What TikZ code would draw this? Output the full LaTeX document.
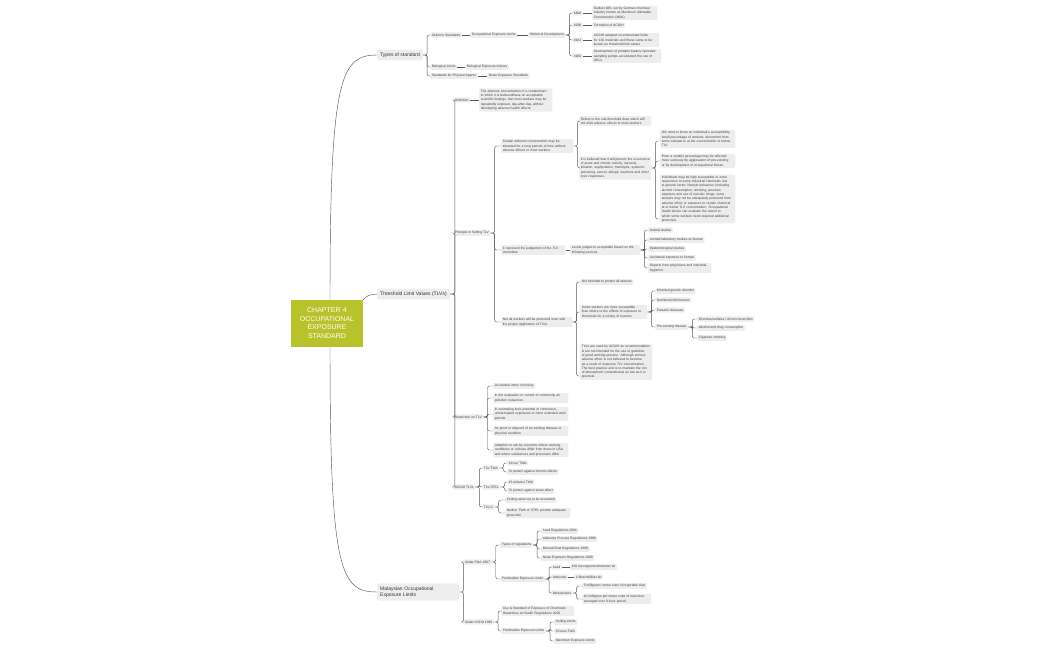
\documentclass[tikz,border=0pt]{standalone}
\usepackage{fontspec}
\setmainfont{Liberation Sans}
\begin{document}
\hyphenpenalty=10000 \exhyphenpenalty=10000
\begin{tikzpicture}[x=1pt,y=-1pt,
 n/.style={anchor=west,fill=black!7,rounded corners=1.2pt,inner xsep=1.6pt,inner ysep=1.4pt,font=\fontsize{3.3}{4.3}\selectfont,text=black!75},
 tb/.style={n,text width=#1,align=left},
 l1/.style={anchor=west,fill=black!7,rounded corners=1.5pt,inner xsep=3pt,inner ysep=3pt,font=\fontsize{5}{6.5}\selectfont,text=black!80},
 link/.style={draw=black!65,line width=0.45pt,rounded corners=2pt}]
\useasboundingbox (0,0) rectangle (1050,650);
\newcommand\cn[3][4]{\draw[link] (#2.east) -- ++(#1,0) |- (#3.west);}
\newcommand\cs[2]{\draw[link] (#1.east) -- (#1.east -| #2.west);}
% root
\node[fill={rgb,255:red,184;green,194;blue,42},text=white,text width=68pt,align=center,minimum height=47pt,inner sep=2pt,font=\fontsize{7}{8.5}\selectfont] (root) at (327,323) {CHAPTER 4 OCCUPATIONAL EXPOSURE STANDARD};
\node[l1] (types) at (377,55) {Types of standard};
\node[l1] (tlv) at (377,294) {Threshold Limit Values (TLVs)};
\node[l1,text width=76pt,align=left] (mal) at (377,592) {Malaysian Occupational Exposure Limits};
\draw[link] (330,300) .. controls (330,80) and (340,55) .. (types.west);
\draw[link] (363,300) .. controls (368,295) .. (tlv.west);
\draw[link] (330,347) .. controls (330,570) and (340,592) .. (mal.west);
% types
\node[n] (air) at (430,35) {Airborne Standards};
\node[n] (bio) at (430,67) {Biological Limits};
\node[n] (phy) at (430,76) {Standards for Physical Agents};
\foreach \c in {air,bio,phy}{\cn{types}{\c}}
\node[n] (oel) at (470,35) {Occupational Exposure Limits};
\node[n] (hist) at (528,35) {Historical Development};
\cs{air}{oel}\cs{oel}{hist}
\node[n] (y1) at (572,13) {1880};
\node[n] (y2) at (572,25) {1938};
\node[n] (y3) at (572,40) {1943};
\node[n] (y4) at (572,56) {1960};
\foreach \c in {y1,y2,y3,y4}{\cn{hist}{\c}}
\node[tb=62pt] (t1) at (592,13) {Earliest OEL set by German chemical industry known as Maximum Allowable Concentration (MAK)};
\node[n] (t2) at (592,25) {Formation of ACGIH};
\node[tb=64pt] (t3) at (592,40) {ACGIH adopted recommended limits for 130 materials and these came to be known as threshold limit values};
\node[tb=66pt] (t4) at (592,56) {Development of portable battery operated sampling pumps accelerated the use of OELs};
\cs{y1}{t1}\cs{y2}{t2}\cs{y3}{t3}\cs{y4}{t4}
\node[n] (bei) at (465,67) {Biological Exposure Indices};
\node[n] (nes) at (487,76) {Noise Exposure Standards};
\cs{bio}{bei}\cs{phy}{nes}
% TLV
\node[n] (def) at (453,100) {Definition};
\node[n] (pri) at (453,233) {Principle in Setting TLV};
\node[n] (res) at (453,417) {Restriction on TLV};
\node[n] (acg) at (453,487) {ACGIH TLVs};
\foreach \c in {def,pri,res,acg}{\cn[5]{tlv}{\c}}
\node[tb=70pt] (deft) at (479,100) {The airborne concentration of a contaminant to which it is believed/base on acceptable scientific findings, that most workers may be repeatedly exposed, day-after-day, without developing adverse health effects.};
\cs{def}{deft}
\node[tb=69pt] (p1) at (501,146) {Certain airborne concentration may be tolerated for a long periods of time without adverse effects to most workers};
\node[tb=61pt] (p2) at (501,250) {It represent the judgement of the TLV committee};
\node[tb=68pt] (p3) at (501,322) {Not all workers will be protected even with the proper application of TLVs};
\foreach \c in {p1,p2,p3}{\cn{pri}{\c}}
\node[tb=69pt] (p11) at (579,121) {Refers to the sub-threshold dose which will not elicit adverse effects to most workers};
\node[tb=69pt] (p12) at (579,168) {It is believed that it will prevent the occurrence of acute and chronic toxicity, narcosis, irritation, asphyxiation, hemolysis, systemic poisoning, cancer, allergic reactions and other toxic responses.};
\cn{p1}{p11}\cn{p1}{p12}
\node[tb=72pt] (q1) at (660,139) {We need to know an individual's susceptibility, small percentage of workers, discomfort from some substance at the concentration or below TLV.};
\node[tb=72pt] (q2) at (660,161) {Even a smaller percentage may be affected more seriously by aggravation of pre-existing or by development of occupational illness.};
\node[tb=72pt] (q3) at (660,199) {Individuals may be high susceptible or extra responsive to some industrial chemicals due to genetic factor, lifestyle behaviour (including alcohol consumption, smoking, previous exposure and use of narcotic drugs; some workers may not be adequately protected from adverse effect or exposure to certain chemical at or below TLV concentration. Occupational health doctor can evaluate the extent to which some workers need required additional protection.};
\draw[link] (p12.east) -- ++(4,0) |- ([yshift=-2pt]q1.west);
\cn{p12}{q2}
\draw[link] (p12.east) -- ++(4,0) |- ([yshift=-20pt]q3.west);
\node[tb=67pt] (lev) at (570,250) {Levels judged to acceptable based on the following sources:};
\cs{p2}{lev}
\node[n] (s1) at (648,230) {Animal studies};
\node[n] (s2) at (648,240) {Limited laboratory studies on human};
\node[n] (s3) at (648,249) {Epidemiological studies};
\node[n] (s4) at (648,258) {Accidental exposure to human};
\node[tb=60pt] (s5) at (648,268) {Reports from physicians and industrial hygienist};
\foreach \c in {s1,s2,s3,s4,s5}{\cn{lev}{\c}}
\node[n] (r1) at (580,282) {Not intended to protect all workers};
\node[tb=64pt] (r2) at (580,312) {Some workers are more susceptible than others to the effects of exposure to chemicals for a variety of reasons};
\node[tb=69pt] (r3) at (580,362) {TLVs are used by ACGIH as recommendation \& are not intended for the use of guideline of good working practice. Although serious adverse effect is not believed to become as a result of exposure TLV concentration. The best practice and is to maintain the con of atmospheric contaminants as low as it is practical.};
\cn{p3}{r1}\cn{p3}{r2}
\draw[link] (p3.east) -- ++(4,0) |- ([yshift=-14pt]r3.west);
\node[n] (g1) at (655,291) {Inherited genetic disorder};
\node[n] (g2) at (655,300) {Nutritional deficiencies};
\node[n] (g3) at (655,310) {Parasitic diseases};
\node[n] (g4) at (655,327) {Pre-existing disease};
\foreach \c in {g1,g2,g3,g4}{\cn{r2}{\c}}
\node[n] (h1) at (697,319) {Bronchial asthma / chronic bronchitis};
\node[n] (h2) at (697,328) {Alcohol and drug consumption};
\node[n] (h3) at (697,338) {Cigarette smoking};
\foreach \c in {h1,h2,h3}{\cn{g4}{\c}}
% restriction
\node[n] (x1) at (493,386) {As relative index of toxicity};
\node[tb=72pt] (x2) at (493,398) {In the evaluation or control of community air pollution nuisances};
\node[tb=72pt] (x3) at (493,414) {In estimating toxic potential of continuous, uninterrupted exposures or other extended work periods};
\node[tb=72pt] (x4) at (493,431) {As proof or disproof of an existing disease or physical condition};
\node[tb=72pt] (x5) at (493,450) {Adoption or use by countries whose working conditions or cultures differ from those in USA and where substances and processes differ};
\foreach \c in {x1,x2,x3,x4,x5}{\cn{res}{\c}}
% ACGIH
\node[n] (a1) at (482,468) {TLV-TWA};
\node[n] (a2) at (482,487) {TLV-STEL};
\node[n] (a3) at (482,507) {TLV-C};
\foreach \c in {a1,a2,a3}{\cn{acg}{\c}}
\node[n] (b1) at (507,463) {8-hour TWA};
\node[n] (b2) at (507,472) {To protect against chronic effects};
\node[n] (b3) at (507,482) {15 minutes TWA};
\node[n] (b4) at (507,491) {To protect against acute effect};
\node[n] (b5) at (505,500) {Ceiling value not to be exceeded};
\node[tb=62pt] (b6) at (505,513) {Neither TWA or STEL provide adequate protection};
\cn{a1}{b1}\cn{a1}{b2}\cn{a2}{b3}\cn{a2}{b4}\cn{a3}{b5}\cn{a3}{b6}
% Malaysia
\node[n] (m1) at (463,562) {Under FMA 1967};
\node[n] (m2) at (463,622) {Under OSHA 1994};
\cn{mal}{m1}\cn{mal}{m2}
\node[n] (f1) at (500,545) {Types of regulations};
\node[n] (f2) at (500,579) {Permissible Exposure Limits};
\cn{m1}{f1}\cn{m1}{f2}
\node[n] (e1) at (541,531) {Lead Regulations 1984};
\node[n] (e2) at (541,539) {Asbestos Process Regulations 1986};
\node[n] (e3) at (541,549) {Mineral Dust Regulations 1989};
\node[n] (e4) at (541,558) {Noise Exposure Regulations 1989};
\foreach \c in {e1,e2,e3,e4}{\cn{f1}{\c}}
\node[n] (k1) at (551,567) {Lead};
\node[n] (k2) at (551,577) {Asbestos};
\node[n] (k3) at (551,593) {Mineral dust};
\foreach \c in {k1,k2,k3}{\cn{f2}{\c}}
\node[n] (v1) at (570,567) {150 microgram/cubicmeter air};
\node[n] (v2) at (574,577) {1 fibre/milliliter air};
\cs{k1}{v1}\cs{k2}{v2}
\node[n] (w1) at (582,586) {5 milligram / meter cube of respirable dust};
\node[tb=66pt] (w2) at (582,599) {10 milligram per meter cube of total dust averaged over 8-hour period};
\cn{k3}{w1}\cn{k3}{w2}
\node[tb=70pt] (o1) at (501,611) {Use \& Standard of Exposure of Chemicals Hazardous to Health Regulations 2000};
\node[n] (o2) at (501,631) {Permissible Exposure Limits};
\cn{m2}{o1}\cn{m2}{o2}
\node[n] (c1) at (554,622) {Ceiling Limits};
\node[n] (c2) at (554,631) {8 hours TWA};
\node[n] (c3) at (554,641) {Maximum Exposure Limits};
\foreach \c in {c1,c2,c3}{\cn{o2}{\c}}
\end{tikzpicture}
\end{document}
